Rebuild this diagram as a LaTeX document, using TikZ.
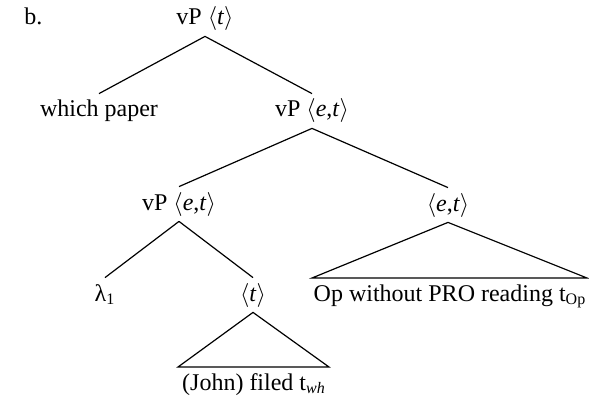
\documentclass[tikz,border=0pt]{standalone}
\usepackage{fontspec}
\setmainfont{Liberation Serif}
\usepackage{fixltx2e}
\newcommand{\semtype}[1]{$\langle$#1$\rangle$}
\tikzset{
	cat/.style={inner sep=2.5pt, text height=9pt, text depth=3pt, font=\fontsize{12}{14}\selectfont},
	branch/.style={black, line width=0.6pt},
}
\begin{document}
\begin{tikzpicture}[x=0.5pt, y=-0.5pt]
		\useasboundingbox (0, 0) rectangle (589, 401);

		\node[cat, anchor=west]	(lbl) at (19, 19) {b.};

		\node[cat]	(top) at (205, 19) {vP \semtype{\textit{t}}};
		\node[cat]	(wp) at (99, 111) {which paper};
		\node[cat]	(vpa) at (312, 111) {vP \semtype{\textit{e},\textit{t}}};
		\node[cat]	(vpb) at (179, 204) {vP \semtype{\textit{e},\textit{t}}};
		\node[cat]	(et) at (448, 205) {\semtype{\textit{e},\textit{t}}};
		\node[cat]	(lam) at (105, 295) {λ\textsubscript{1}};
		\node[cat]	(tt) at (253, 295) {\semtype{\textit{t}}};
		\node[cat]	(john) at (254, 384) {(John) filed t\textsubscript{\textit{wh}}};
		\node[cat]	(op) at (450, 295) {Op without PRO reading t\textsubscript{Op}};

		\coordinate	(jl) at (178, 367);
		\coordinate	(jr) at (329, 367);
		\coordinate	(ol) at (312, 278);
		\coordinate	(or) at (587, 278);

		\draw[branch]	(top.south) to (wp.north);
		\draw[branch]	(top.south) to (vpa.north);
		\draw[branch]	(vpa.south) to (vpb.north);
		\draw[branch]	(vpa.south) to (et.north);
		\draw[branch]	(vpb.south) to (lam.north);
		\draw[branch]	(vpb.south) to (tt.north);

		\draw[branch]	(tt.south) to (jl) to (jr) to cycle;
		\draw[branch]	(et.south) to (ol) to (or) to cycle;
	\end{tikzpicture}
\end{document}
